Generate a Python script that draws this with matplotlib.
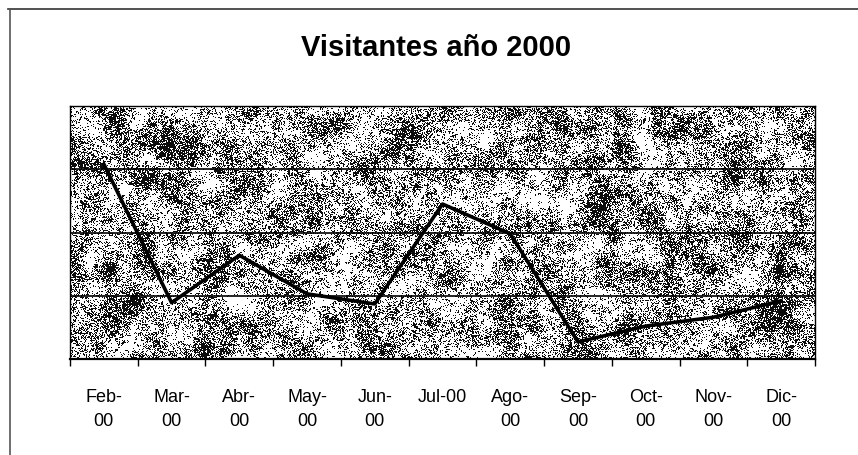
import matplotlib
matplotlib.use("Agg")
import matplotlib.pyplot as plt
import numpy as np

plt.rcParams['font.family'] = ['Liberation Sans', 'DejaVu Sans']

# data (y axis has no labels, 4 gridline bands)
meses = ["Feb-\n00", "Mar-\n00", "Abr-\n00", "May-\n00", "Jun-\n00", "Jul-00",
         "Ago-\n00", "Sep-\n00", "Oct-\n00", "Nov-\n00", "Dic-\n00"]
visitantes = [3.08, 0.89, 1.64, 1.03, 0.87, 2.45, 1.98, 0.27, 0.52, 0.66, 0.92]

W, H = 858, 456
fig = plt.figure(figsize=(W / 100, H / 100), dpi=100)
fig.patch.set_facecolor("white")

# outer chart frame (only top and left visible in the scan)
fig.add_artist(plt.Line2D([8 / W, 1], [1 - 10 / H, 1 - 10 / H], color="#333333", lw=1.2))
fig.add_artist(plt.Line2D([10 / W, 10 / W], [0, 1 - 10 / H], color="#555555", lw=1.2))

fig.text(0.508, 1 - 48 / H, "Visitantes año 2000", ha="center", va="center",
         fontsize=21, fontweight="bold")

left, right, top, bottom = 70, 815, 107, 360
ax = fig.add_axes([left / W, 1 - bottom / H, (right - left) / W, (bottom - top) / H])


def blur(a, n):
    k = np.ones(n) / n
    a = np.apply_along_axis(lambda r: np.convolve(r, k, mode="same"), 1, a)
    return np.apply_along_axis(lambda c: np.convolve(c, k, mode="same"), 0, a)


# speckled "granite" fill of the plot area (decoration only, not data)
rng = np.random.default_rng(5)
ph, pw = bottom - top, right - left
m = 40
coarse = blur(blur(rng.random((ph + 2 * m, pw + 2 * m)), 15), 15)[m:-m, m:-m]
mid = blur(rng.random((ph + 2 * m, pw + 2 * m)), 4)[m:-m, m:-m]
coarse = (coarse - coarse.mean()) / coarse.std()
mid = (mid - mid.mean()) / mid.std()
dens = np.clip(0.38 + 0.16 * coarse + 0.12 * mid, 0.02, 0.9)
speck = (rng.random((ph, pw)) < dens).astype(float)
ax.imshow(speck, cmap="gray_r", extent=(-0.5, 10.5, 0, 4), aspect="auto",
          interpolation="nearest", zorder=0, vmin=0, vmax=1.05)

x = np.arange(len(visitantes))
for yg in [1, 2, 3]:
    ax.axhline(yg, color="black", lw=1.2, zorder=1)
ax.plot(x, visitantes, color="black", lw=2.6, zorder=3)

ax.set_xlim(-0.5, 10.5)
ax.set_ylim(0, 4)
ax.set_yticks([])
ax.set_xticks(x)
ax.set_xticklabels(meses, fontsize=13, linespacing=1.55)
ax.tick_params(axis="x", which="major", length=0, pad=21)
ax.set_xticks(np.arange(-0.5, 11, 1), minor=True)
ax.tick_params(axis="x", which="minor", length=5, width=1, direction="out")
for s in ax.spines.values():
    s.set_color("black")
    s.set_linewidth(1)
ax.spines["bottom"].set_linewidth(1.6)

fig.savefig("out.png", dpi=100)
